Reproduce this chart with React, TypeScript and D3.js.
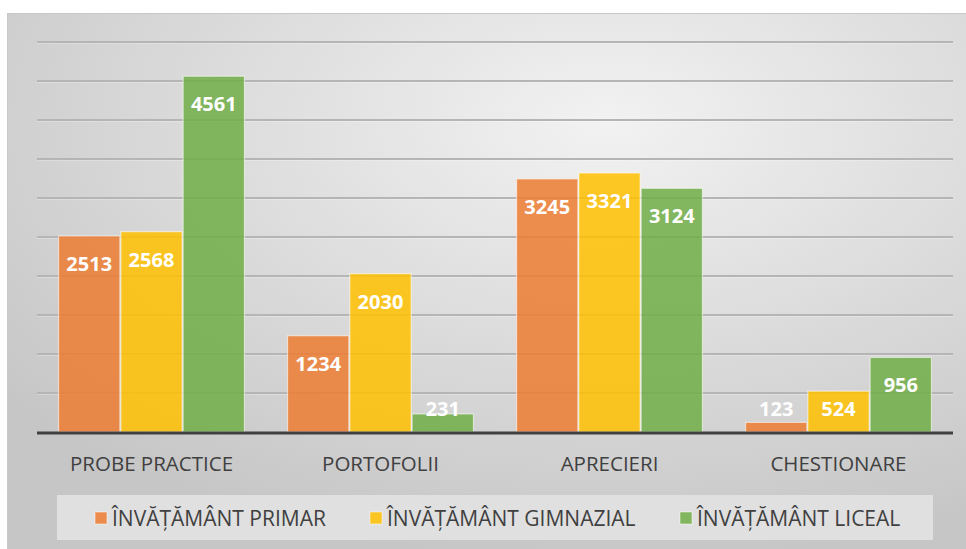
import React from "react";
import * as d3 from "d3";

const categories = ["PROBE PRACTICE", "PORTOFOLII", "APRECIERI", "CHESTIONARE"];
const seriesNames = ["ÎNVĂȚĂMÂNT PRIMAR", "ÎNVĂȚĂMÂNT GIMNAZIAL", "ÎNVĂȚĂMÂNT LICEAL"];
const primar = [2513, 1234, 3245, 123];
const gimnazial = [2568, 2030, 3321, 524];
const liceal = [4561, 231, 3124, 956];
const colors = ["#ED7D31", "#FFC000", "#70AD47"];
const yTicks = [0, 500, 1000, 1500, 2000, 2500, 3000, 3500, 4000, 4500, 5000];

const W = 966;
const H = 549;
const plotLeft = 37;
const plotRight = 953;
const plotTop = 42;
const plotBottom = 432;
const FONT = "'Open Sans', 'Liberation Sans', sans-serif";

export default function App() {
  const series = [primar, gimnazial, liceal];
  const x0 = d3
    .scaleBand<string>()
    .domain(categories)
    .range([plotLeft, plotRight])
    .paddingInner(0.184)
    .paddingOuter(0.092);
  const x1 = d3
    .scaleBand<number>()
    .domain([0, 1, 2])
    .range([0, x0.bandwidth()])
    .padding(0);
  const y = d3.scaleLinear().domain([0, 5000]).range([plotBottom, plotTop]);
  const catScale = d3.scaleBand<string>().domain(categories).range([plotLeft, plotRight]);

  const legendItems = [
    { x: 95, tx: 112 },
    { x: 370, tx: 387 },
    { x: 680, tx: 697 },
  ];

  return (
    <svg width={W} height={H} style={{ display: "block", position: "absolute", left: 0, top: 0 }}>
      <defs>
        <radialGradient id="bg" cx="0.62" cy="0.2" r="0.8">
          <stop offset="0" stopColor="#f2f2f2" />
          <stop offset="1" stopColor="#c6c6c6" />
        </radialGradient>
      </defs>
      <rect x={0} y={0} width={W} height={H} fill="#ffffff" />
      <rect x={7.5} y={13.5} width={W} height={H} fill="url(#bg)" stroke="#c8c8c8" strokeWidth={1} />
      {yTicks.slice(1).map((t) => (
        <g key={t}>
          <line x1={plotLeft} x2={plotRight} y1={y(t) + 1} y2={y(t) + 1} stroke="#ffffff" strokeOpacity={0.5} strokeWidth={1} />
          <line x1={plotLeft} x2={plotRight} y1={y(t)} y2={y(t)} stroke="#b5b5b5" strokeWidth={1.8} />
        </g>
      ))}
      {categories.map((c, ci) => (
        <g key={c} transform={`translate(${x0(c)},0)`}>
          {series.map((s, si) => {
            const v = s[ci];
            const bx = x1(si)!;
            const bw = x1.bandwidth();
            const top = y(v);
            const labelY = Math.min(top + 35, 416);
            return (
              <g key={si}>
                <rect
                  x={bx + 0.5}
                  y={top}
                  width={bw - 1}
                  height={plotBottom - top}
                  fill={colors[si]}
                  fillOpacity={0.85}
                  stroke="#ffffff"
                  strokeOpacity={0.55}
                  strokeWidth={1.2}
                />
                <text
                  x={bx + bw / 2}
                  y={labelY}
                  textAnchor="middle"
                  fill="#ffffff"
                  fontFamily={FONT}
                  fontWeight={700}
                  fontSize={20}
                >
                  {v}
                </text>
              </g>
            );
          })}
        </g>
      ))}
      <line x1={plotLeft} x2={plotRight} y1={plotBottom + 1} y2={plotBottom + 1} stroke="#404040" strokeWidth={3} />
      {categories.map((c) => (
        <text
          key={c}
          x={catScale(c)! + catScale.bandwidth() / 2}
          y={471}
          textAnchor="middle"
          fill="#404040"
          fontFamily={FONT}
          fontSize={20.5}
        >
          {c}
        </text>
      ))}
      <rect x={57} y={495} width={876} height={45} fill="#e2e2e2" fillOpacity={0.9} />
      {seriesNames.map((n, i) => (
        <g key={n}>
          <rect x={legendItems[i].x} y={512} width={12} height={12} fill={colors[i]} fillOpacity={0.85} stroke="#ffffff" strokeOpacity={0.5} />
          <text x={legendItems[i].tx} y={526} fill="#404040" fontFamily={FONT} fontSize={21}>
            {n}
          </text>
        </g>
      ))}
    </svg>
  );
}
